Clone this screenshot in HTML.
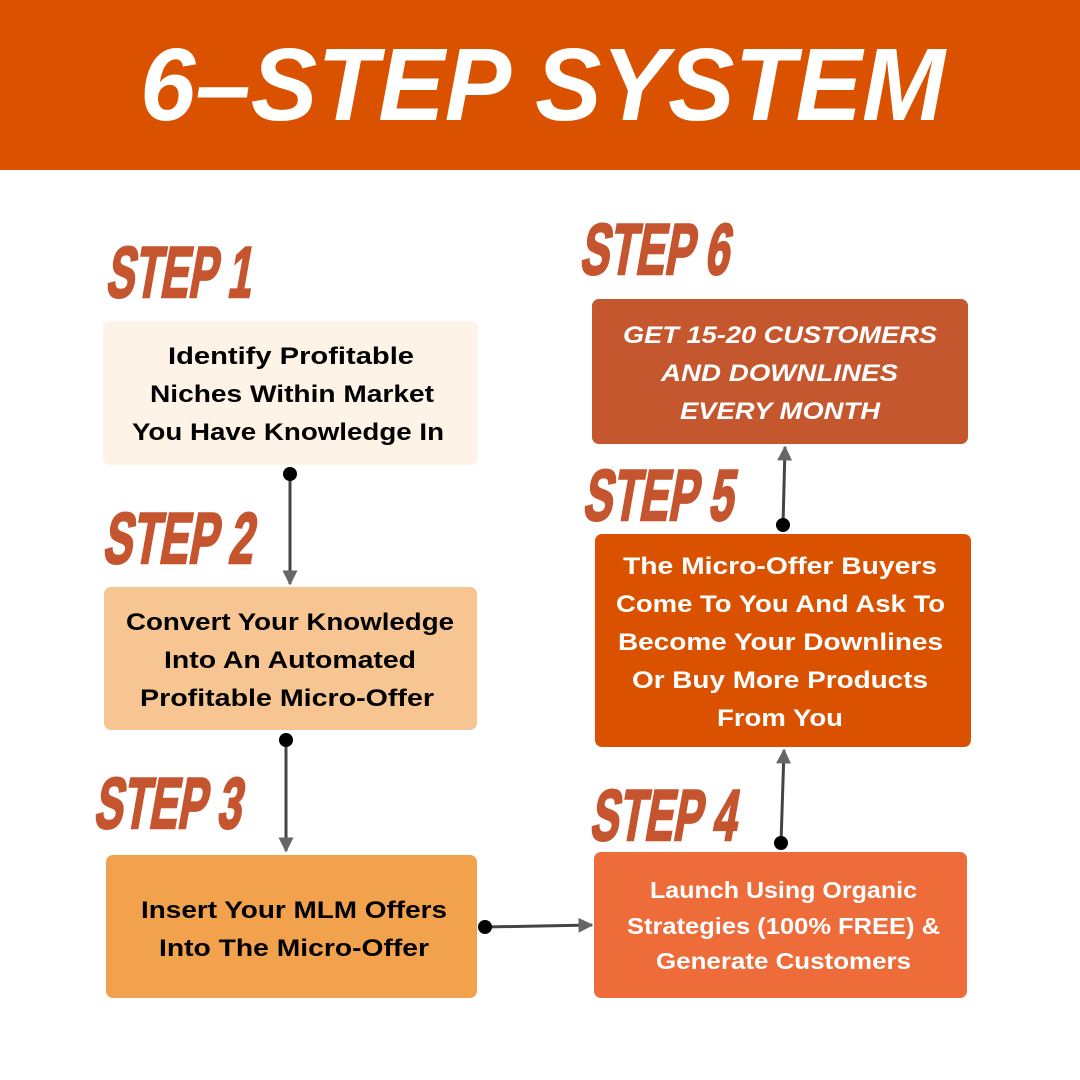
<!DOCTYPE html>
<html><head><meta charset="utf-8"><style>html,body{margin:0;padding:0;background:#fff}svg{display:block}</style></head>
<body>
<svg width="1080" height="1080" viewBox="0 0 1080 1080" xmlns="http://www.w3.org/2000/svg">
<defs>
<marker id="ar" viewBox="0 0 10 10" refX="9" refY="5" markerWidth="5" markerHeight="5" orient="auto"><path d="M0,0L10,5L0,10z" fill="#666"/></marker>
</defs>
<rect width="1080" height="1080" fill="#fff"/>
<rect x="0" y="0" width="1080" height="170" fill="#DA5200"/>
<text x="140" y="120" font-family="Liberation Sans, sans-serif" font-weight="bold" font-style="italic" font-size="103" fill="#fff" textLength="805" lengthAdjust="spacingAndGlyphs">6–STEP SYSTEM</text>

<g font-family="Liberation Sans, sans-serif" font-weight="bold" font-size="72" fill="#C5552E" stroke="#C5552E" stroke-width="2.5">
<text transform="translate(105,297) skewX(-10)" textLength="145" lengthAdjust="spacingAndGlyphs">STEP 1</text>
<text transform="translate(102,563) skewX(-10)" textLength="150" lengthAdjust="spacingAndGlyphs">STEP 2</text>
<text transform="translate(93,828) skewX(-10)" textLength="147" lengthAdjust="spacingAndGlyphs">STEP 3</text>
<text transform="translate(589,840) skewX(-10)" textLength="146" lengthAdjust="spacingAndGlyphs">STEP 4</text>
<text transform="translate(582,520) skewX(-10)" textLength="150" lengthAdjust="spacingAndGlyphs">STEP 5</text>
<text transform="translate(579,274) skewX(-10)" textLength="149" lengthAdjust="spacingAndGlyphs">STEP 6</text>
</g>

<rect x="103" y="321" width="375" height="144" rx="7" fill="#FDF3E6"/>
<rect x="104" y="587" width="373" height="143" rx="7" fill="#F6C592"/>
<rect x="106" y="855" width="371" height="143" rx="7" fill="#F2A24C"/>
<rect x="594" y="852" width="373" height="146" rx="7" fill="#EE6C3A"/>
<rect x="595" y="534" width="376" height="213" rx="7" fill="#DA5200"/>
<rect x="592" y="299" width="376" height="145" rx="7" fill="#C5572F"/>

<g font-family="Liberation Sans, sans-serif" font-weight="bold" font-size="24" fill="#000">
<text x="168" y="364" textLength="246" lengthAdjust="spacingAndGlyphs">Identify Profitable</text>
<text x="150" y="402" textLength="284" lengthAdjust="spacingAndGlyphs">Niches Within Market</text>
<text x="132" y="440" textLength="312" lengthAdjust="spacingAndGlyphs">You Have Knowledge In</text>
<text x="126" y="630" textLength="328" lengthAdjust="spacingAndGlyphs">Convert Your Knowledge</text>
<text x="164" y="668" textLength="252" lengthAdjust="spacingAndGlyphs">Into An Automated</text>
<text x="140" y="706" textLength="294" lengthAdjust="spacingAndGlyphs">Profitable Micro-Offer</text>
<text x="141" y="918" textLength="306" lengthAdjust="spacingAndGlyphs">Insert Your MLM Offers</text>
<text x="159" y="956" textLength="270" lengthAdjust="spacingAndGlyphs">Into The Micro-Offer</text>
</g>
<g font-family="Liberation Sans, sans-serif" font-weight="bold" font-size="23" fill="#fff">
<text x="650" y="898" textLength="267" lengthAdjust="spacingAndGlyphs">Launch Using Organic</text>
<text x="627" y="934" textLength="313" lengthAdjust="spacingAndGlyphs">Strategies (100% FREE) &amp;</text>
<text x="656" y="969" textLength="255" lengthAdjust="spacingAndGlyphs">Generate Customers</text>
</g>
<g font-family="Liberation Sans, sans-serif" font-weight="bold" font-size="24" fill="#fff">
<text x="623" y="574" textLength="314" lengthAdjust="spacingAndGlyphs">The Micro-Offer Buyers</text>
<text x="616" y="612" textLength="329" lengthAdjust="spacingAndGlyphs">Come To You And Ask To</text>
<text x="618" y="650" textLength="325" lengthAdjust="spacingAndGlyphs">Become Your Downlines</text>
<text x="632" y="688" textLength="296" lengthAdjust="spacingAndGlyphs">Or Buy More Products</text>
<text x="717" y="726" textLength="126" lengthAdjust="spacingAndGlyphs">From You</text>
<g font-style="italic">
<text x="623" y="343" textLength="314" lengthAdjust="spacingAndGlyphs">GET 15-20 CUSTOMERS</text>
<text x="661" y="381" textLength="237" lengthAdjust="spacingAndGlyphs">AND DOWNLINES</text>
<text x="680" y="419" textLength="200" lengthAdjust="spacingAndGlyphs">EVERY MONTH</text>
</g>
</g>

<g stroke="#444" stroke-width="3" fill="none" marker-end="url(#ar)">
<line x1="290" y1="474" x2="290" y2="584"/>
<line x1="286" y1="740" x2="286" y2="851"/>
<line x1="485" y1="927" x2="592" y2="925"/>
<line x1="781" y1="843" x2="784" y2="750"/>
<line x1="783" y1="525" x2="785" y2="447"/>
</g>
<g fill="#000">
<circle cx="290" cy="474" r="7"/>
<circle cx="286" cy="740" r="7"/>
<circle cx="485" cy="927" r="7"/>
<circle cx="781" cy="843" r="7"/>
<circle cx="783" cy="525" r="7"/>
</g>
</svg>
</body></html>
